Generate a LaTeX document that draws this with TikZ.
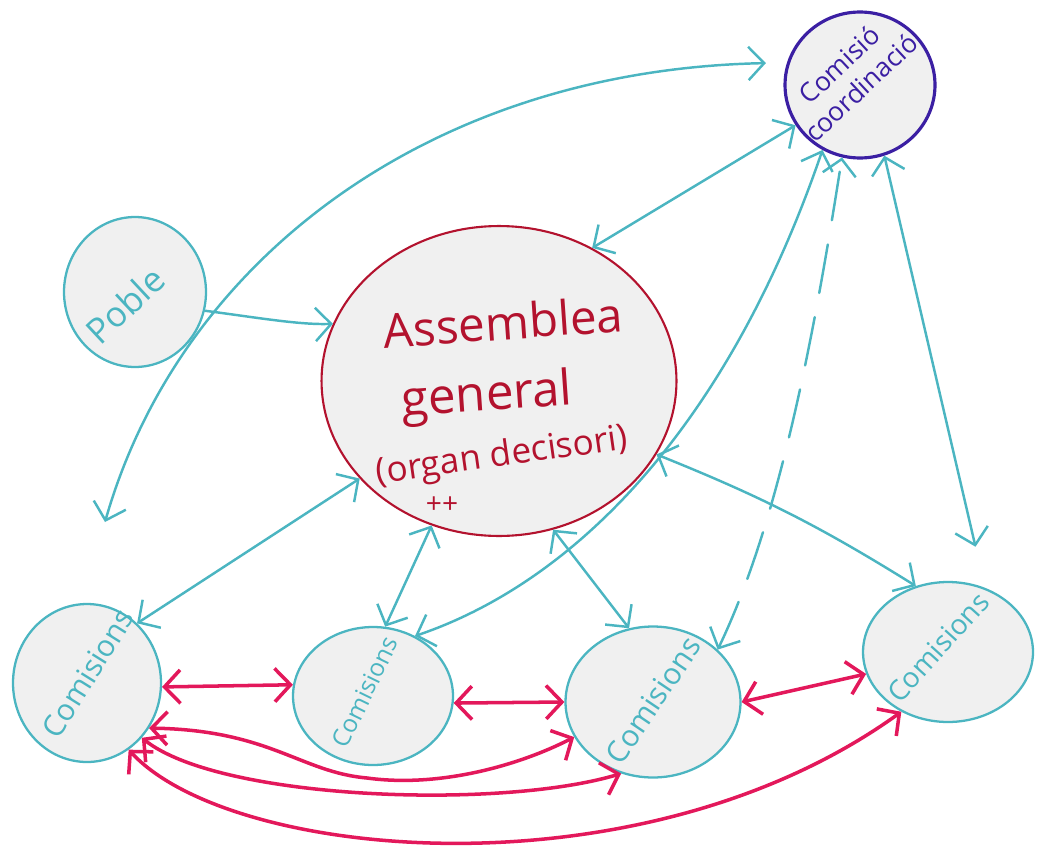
\documentclass[tikz,border=0pt]{standalone}
\usepackage{fontspec}
\setmainfont{Open Sans}
\usetikzlibrary{arrows.meta,shapes.geometric}
\definecolor{cy}{HTML}{4BB5C1}
\definecolor{ared}{HTML}{B3122E}
\definecolor{ind}{HTML}{3B1FA3}
\definecolor{mag}{HTML}{E3185B}
\definecolor{paper}{HTML}{F0F0F0}
\begin{document}
\begin{tikzpicture}[x=0.02cm,y=-0.02cm,
  >={Straight Barb[length=9pt,width=19pt]},
  bubble/.style={ellipse, draw=cy, fill=paper, line width=1.3pt, inner sep=0pt},
  cyl/.style={draw=cy, line width=1.4pt, line cap=round},
  mg/.style={draw=mag, line width=2pt, line cap=round},
  cytext/.style={text=cy, inner sep=0pt},
  agtext/.style={text=ared, inner sep=0pt}]
\useasboundingbox (0,0) rectangle (1037,848);

% nodes
\node[bubble, draw=ind, line width=1.8pt, minimum width=3.0cm, minimum height=2.92cm] (cc) at (860,85) {};
\node[bubble, minimum width=2.84cm, minimum height=3.0cm] (poble) at (135,292) {};
\node[bubble, draw=ared, line width=1.2pt, minimum width=7.1cm, minimum height=6.2cm] (ag) at (499,381) {};
\node[bubble, minimum width=2.96cm, minimum height=3.16cm] (c1) at (87,683) {};
\node[bubble, minimum width=3.2cm, minimum height=2.76cm] (c2) at (373,696) {};
\node[bubble, minimum width=3.5cm, minimum height=3.02cm] (c3) at (653,702) {};
\node[bubble, minimum width=3.4cm, minimum height=2.8cm] (c4) at (948,652) {};

% texts
\node[text=ind, inner sep=0pt, align=center, font=\fontsize{15}{18}\selectfont, rotate=43] (cct) at (850,76) {Comisió\\coordinació};
\node[cytext, font=\fontsize{20}{24}\selectfont, rotate=43] (poblet) at (125,305) {Poble};
\node[agtext, font=\fontsize{27}{30}\selectfont, rotate=4] (agt1) at (503,322) {Assemblea};
\node[agtext, font=\fontsize{28}{30}\selectfont, rotate=4] (agt2) at (487,398) {general};
\node[agtext, font=\fontsize{20}{24}\selectfont, rotate=8] (agt3) at (502,457) {(organ decisori)};
\node[agtext, font=\fontsize{16}{18}\selectfont] (agt4) at (442,505) {++};
\node[cytext, font=\fontsize{17}{20}\selectfont, rotate=58] (c1t) at (88,673) {Comisions};
\node[cytext, font=\fontsize{14}{16}\selectfont, rotate=64] (c2t) at (365,692) {Comisions};
\node[cytext, font=\fontsize{17}{20}\selectfont, rotate=56] (c3t) at (653,700) {Comisions};
\node[cytext, font=\fontsize{16}{18}\selectfont, rotate=48] (c4t) at (938,647) {Comisions};

% cyan connectors
\coordinate (k1) at (105,522);
\draw[cyl,<->,shorten >=12pt] (k1) .. controls (180,260) and (430,70) .. (cc.163);
\draw[cyl,->] (poble.-15) .. controls (260,318) and (300,325) .. (ag.161);
\draw[cyl,<->] (ag.55) -- (cc.212);
\draw[cyl,<->] (c1.50) -- (ag.215);
\draw[cyl,<->] (ag.245) -- (c2.80);
\draw[cyl,<->] (c2.55) .. controls (580,580) and (730,420) .. (cc.240);
\draw[cyl,<->,dash pattern=on 28pt off 14pt] (c3.39) .. controls (780,520) and (815,330) .. (cc.256);
\draw[cyl,<->,shorten >=24pt] (cc.289) -- (c4.60);
\draw[cyl,<->] (ag.335) to[bend left=5] (c4.116);
\draw[cyl,<->] (ag.290) -- (c3.108);

% magenta connectors
\draw[mg,<->] (c1.-3) -- (c2.172);
\draw[mg,<->] (c2.-5) -- (c3.180);
\draw[mg,<->] (c3.0) -- (c4.195);
\draw[mg,<->] (c1.-36) .. controls (270,730) and (300,772) .. (367,778) .. controls (440,788) and (520,765) .. (c3.204);
\draw[mg,<->] (c1.-45) .. controls (220,800) and (500,810) .. (c3.246);
\draw[mg,<->] (c1.-58) .. controls (230,860) and (640,900) .. (c4.232);
\end{tikzpicture}
\end{document}
